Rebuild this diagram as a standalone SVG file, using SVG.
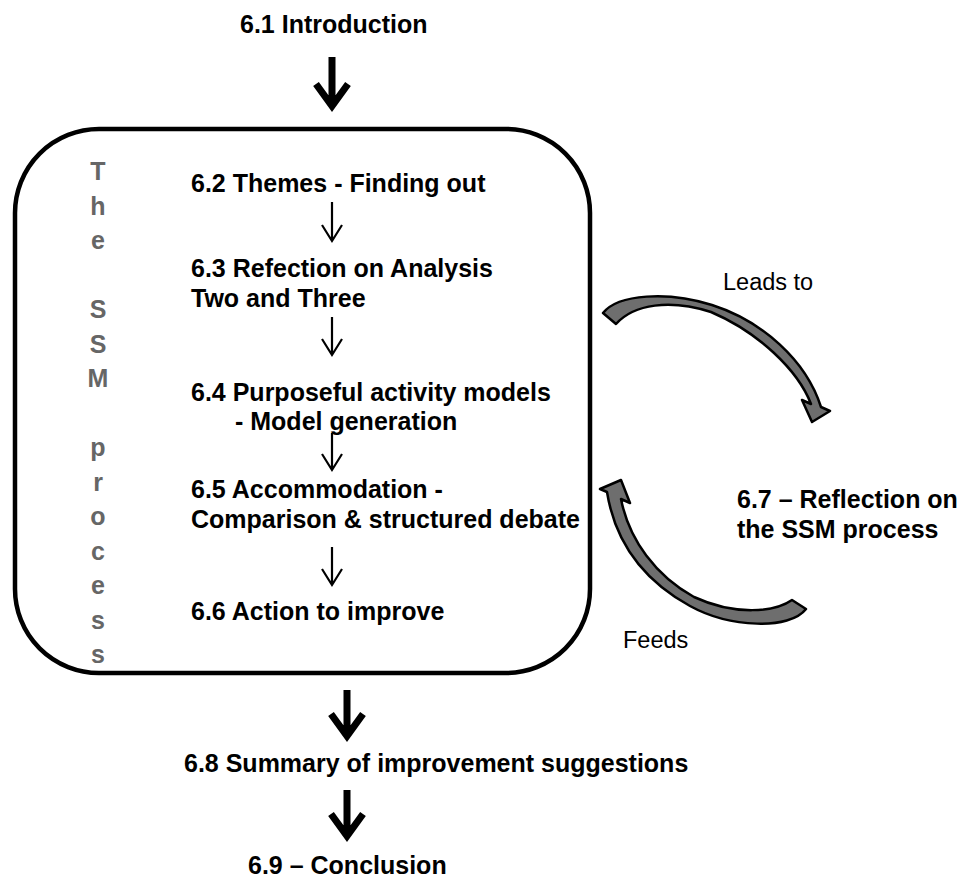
<svg xmlns="http://www.w3.org/2000/svg" width="962" height="882" viewBox="0 0 962 882">
  <style>
    .t { font-family: "Liberation Sans", Arial, sans-serif; font-weight: bold; font-size: 25px; fill: #000; }
    .r { font-family: "Liberation Sans", Arial, sans-serif; font-size: 23.5px; fill: #000; }
    .v { font-family: "Liberation Sans", Arial, sans-serif; font-weight: bold; font-size: 25px; fill: #666; text-anchor: middle; }
    .thick { fill: none; stroke: #000; stroke-width: 7; stroke-linejoin: miter; stroke-miterlimit: 10; }
    .thin { fill: none; stroke: #000; stroke-width: 2.2; stroke-linejoin: miter; }
    .curve { fill: #6e6e6e; stroke: #000; stroke-width: 2.5; stroke-linejoin: round; }
  </style>

  <rect width="962" height="882" fill="#fff"/>

  <!-- SSM process frame -->
  <g id="ssm-frame">
    <rect x="15" y="129" width="575" height="544" rx="84" ry="84" fill="none" stroke="#000" stroke-width="4.5"/>
    <text class="v" x="98" y="180">T</text>
    <text class="v" x="98" y="214.5">h</text>
    <text class="v" x="98" y="249">e</text>
    <text class="v" x="98" y="318">S</text>
    <text class="v" x="98" y="352.5">S</text>
    <text class="v" x="98" y="387">M</text>
    <text class="v" x="98" y="456">p</text>
    <text class="v" x="98" y="490.5">r</text>
    <text class="v" x="98" y="525">o</text>
    <text class="v" x="98" y="559.5">c</text>
    <text class="v" x="98" y="594">e</text>
    <text class="v" x="98" y="628.5">s</text>
    <text class="v" x="98" y="663">s</text>
  </g>

  <g id="n61"><text class="t" x="240" y="33">6.1 Introduction</text></g>
  <g id="n62"><text class="t" x="191" y="192">6.2 Themes - Finding out</text></g>
  <g id="n63">
    <text class="t" x="191" y="277">6.3 Refection on Analysis</text>
    <text class="t" x="191" y="307">Two and Three</text>
  </g>
  <g id="n64">
    <text class="t" x="191" y="401">6.4 Purposeful activity models</text>
    <text class="t" x="235" y="430">- Model generation</text>
  </g>
  <g id="n65">
    <text class="t" x="191" y="498">6.5 Accommodation -</text>
    <text class="t" x="191" y="528">Comparison &amp; structured debate</text>
  </g>
  <g id="n66"><text class="t" x="191" y="620">6.6 Action to improve</text></g>
  <g id="n67">
    <text class="t" x="737" y="508">6.7 – Reflection on</text>
    <text class="t" x="737" y="538">the SSM process</text>
  </g>
  <g id="n68"><text class="t" x="184" y="772">6.8 Summary of improvement suggestions</text></g>
  <g id="n69"><text class="t" x="248" y="874">6.9 – Conclusion</text></g>

  <!-- connectors -->
  <g id="connectors">
    <!-- bold flow arrows -->
    <path class="thick" d="M332,57 V106 M316,84 L332,106 L348,84"/>
    <path class="thick" d="M347,690 V736 M331,714 L347,736 L363,714"/>
    <path class="thick" d="M347,790 V836 M331,814 L347,836 L363,814"/>

    <!-- thin arrows inside the frame -->
    <path class="thin" d="M332,202 V241 M322,225 L332,241 L342,225"/>
    <path class="thin" d="M332,317 V355 M322,339 L332,355 L342,339"/>
    <path class="thin" d="M332,433 V470 M322,454 L332,470 L342,454"/>
    <path class="thin" d="M332,547 V585 M322,569 L332,585 L342,569"/>

    <!-- curved arrow: leads to 6.7 -->
    <path class="curve" d="M603,313 C618,294 668,291 712,305 C762,321 806,360 821,407 L830,411 L812,422 L802,400 L811,404 C798,370 758,332 711,312 C670,299 634,304 616,324 Z"/>
    <text class="r" x="723" y="290">Leads to</text>

    <!-- curved arrow: 6.7 feeds back -->
    <path class="curve" d="M806,609 C790,630 730,628 690,606 C650,584 616,548 607,492 L600,489 L621,480 L630,503 L621,499 C629,540 656,576 694,597 C735,616 775,612 792,600 Z"/>
    <text class="r" x="623" y="648">Feeds</text>
  </g>
</svg>
